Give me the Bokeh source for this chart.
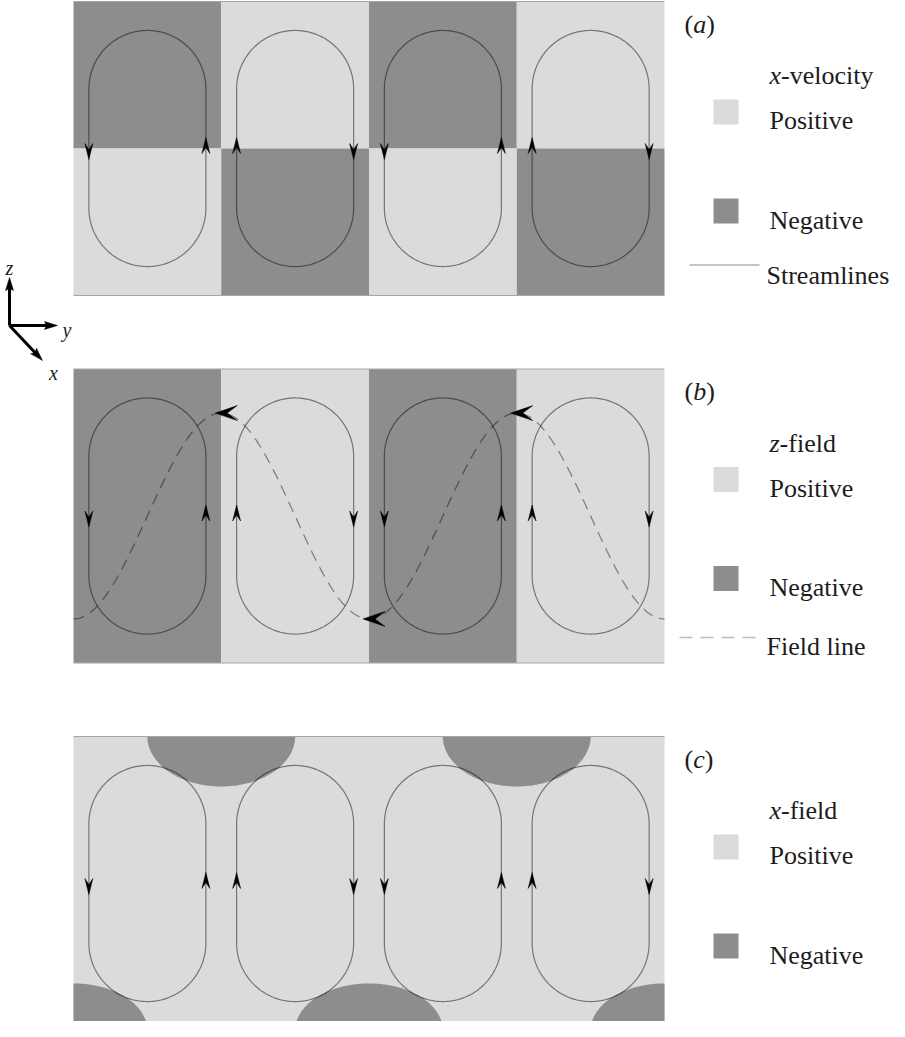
import numpy as np
from bokeh.plotting import figure
from bokeh.models import Range1d
from bokeh.core.properties import value
from bokeh.embed import file_html
from bokeh.resources import INLINE

# ---------------- data ----------------
cells = [0, 1, 2, 3]                      # convection rolls along y
xvel_upper = [-1, 1, -1, 1]               # (a) sign of x-velocity, upper half
xvel_lower = [1, -1, 1, -1]               # (a) sign of x-velocity, lower half
zfield_sign = [-1, 1, -1, 1]              # (b) sign of z-field in each roll
circulation = [1, -1, 1, -1]              # +1: down on left side, up on right side
lobe_centre = [1.0, 3.0, 0.0, 2.0, 4.0]   # (c) negative x-field lobes (position along y)
lobe_wall = ["top", "top", "bottom", "bottom", "bottom"]
lobe_halfwidth = [0.50, 0.50, 0.50, 0.50, 0.50]
lobe_halfheight = [0.34, 0.34, 0.32, 0.32, 0.32]
field_amplitude = 0.70                    # (b) field-line excursion
field_arrow_at = [1.0, 2.0, 3.0]          # (b) arrows on the field line
stream_halfwidth = 0.396
stream_halfheight = 0.803
panel_tags = ["a", "b", "c"]
panel_vars = ["x", "z", "x"]
panel_quantities = ["-velocity", "-field", "-field"]
legend_labels = ["Positive", "Negative"]
line_labels = ["Streamlines", "Field line", None]
axis_names = ["z", "y", "x"]

LIGHT = "#dbdbdb"
DARK = "#8d8d8d"
INK = "#1c1c1c"
FONT = "Liberation Serif"

W, H = 889, 1021
SX, SY = 147.75, 147.0
BOX_LEFT_PX = 73
BOX_W, BOX_H = float(len(cells)), 2.0
OFFSETS = [0.0, -2.5, -5.0]
y_top = BOX_H + 1.0 / SY

p = figure(width=W, height=H,
           x_range=Range1d(-BOX_LEFT_PX / SX, (W - BOX_LEFT_PX) / SX),
           y_range=Range1d(y_top - H / SY, y_top),
           output_backend="svg", toolbar_location=None, min_border=0,
           x_axis_location=None, y_axis_location=None)
p.grid.visible = False
p.outline_line_color = None
p.background_fill_color = "white"
p.border_fill_color = "white"


def px(page_x):
    return (page_x - 8 - BOX_LEFT_PX) / SX


def py(off, rel):
    return off + BOX_H - rel / SY


def vee(tx, ty, ux, uy, L, Wd, N):
    nx, ny = -uy, ux
    pts = [(0, 0),
           (-L * ux + Wd / 2 * nx, -L * uy + Wd / 2 * ny),
           (-N * ux, -N * uy),
           (-L * ux - Wd / 2 * nx, -L * uy - Wd / 2 * ny)]
    return [tx + a / SX for a, b in pts], [ty + b / SY for a, b in pts]


def col(s):
    return LIGHT if s > 0 else DARK


# stadium-like streamline outline (in pixels, then to world units)
r_px = stream_halfwidth * SX
h_px = stream_halfheight * SY
arc = np.linspace(0, np.pi, 120)
top_x = r_px * np.cos(arc)
top_z = (h_px - r_px) + r_px * np.sin(arc)
shape_x = np.concatenate([top_x, -top_x, [top_x[0]]])
shape_z = np.concatenate([top_z, -top_z, [top_z[0]]])
ex = shape_x / SX
ez = shape_z / SY

for k, off in enumerate(OFFSETS):
    # ---- fills ----
    if k == 0:
        p.quad(left=cells, right=[c + 1 for c in cells], bottom=[off + 1] * 4, top=[off + 2] * 4,
               fill_color=[col(s) for s in xvel_upper], line_color=None)
        p.quad(left=cells, right=[c + 1 for c in cells], bottom=[off] * 4, top=[off + 1] * 4,
               fill_color=[col(s) for s in xvel_lower], line_color=None)
    elif k == 1:
        p.quad(left=cells, right=[c + 1 for c in cells], bottom=[off] * 4, top=[off + 2] * 4,
               fill_color=[col(s) for s in zfield_sign], line_color=None)
    else:
        p.quad(left=[0], right=[BOX_W], bottom=[off], top=[off + BOX_H], fill_color=LIGHT, line_color=None)
        th = np.linspace(0, 2 * np.pi, 241)
        lx, ly = [], []
        for c, wall, a, b in zip(lobe_centre, lobe_wall, lobe_halfwidth, lobe_halfheight):
            cy = off + BOX_H if wall == "top" else off
            xs = np.clip(c + a * np.cos(th), 0, BOX_W)
            ys = np.clip(cy + b * np.sin(th), off, off + BOX_H)
            lx.append(list(xs))
            ly.append(list(ys))
        p.patches(xs=lx, ys=ly, fill_color=DARK, line_color=None)

    p.segment(x0=[0, 0], y0=[off + BOX_H, off], x1=[BOX_W, BOX_W], y1=[off + BOX_H, off],
              line_color="#a6a6a6", line_width=1)

    # ---- field line (b) ----
    if k == 1:
        fx = np.linspace(0, BOX_W, 600)
        fz = off + 1 - field_amplitude * np.cos(np.pi * fx)
        p.line(fx, fz, line_color="black", line_alpha=0.42, line_width=1.3, line_dash="11 7")
        axs, ays = [], []
        for xa in field_arrow_at:
            za = off + 1 - field_amplitude * np.cos(np.pi * xa)
            a_x, a_y = vee(xa - 6 / SX, za, -1, 0, 22, 15, 12)
            axs.append(a_x)
            ays.append(a_y)
        p.patches(xs=axs, ys=ays, fill_color="black", line_color="black", line_width=0.5)

    # ---- streamlines ----
    sxs = [list(c + 0.5 + ex) for c in cells]
    sys_ = [list(off + 1 + ez) for c in cells]
    p.multi_line(xs=sxs, ys=sys_, line_color="black", line_alpha=0.47, line_width=1.2)

    axs, ays = [], []
    for c, d in zip(cells, circulation):
        for side, sgn in ((-1, -d), (1, d)):
            xa = c + 0.5 + side * stream_halfwidth
            za = off + 1 + sgn * 11 / SY
            a_x, a_y = vee(xa, za, 0, sgn, 16, 8, 10)
            axs.append(a_x)
            ays.append(a_y)
    p.patches(xs=axs, ys=ays, fill_color="black", line_color="black", line_width=0.5)

    # ---- legend ----
    adv = {"(": 0.333, "a": 0.5, "b": 0.5, "c": 0.444, "x": 0.444, "z": 0.389}
    fs = 26
    tag = panel_tags[k]
    x0 = 692
    p.text(x=[px(x0), px(x0 + adv[tag] * fs + adv["("] * fs)], y=[py(off, 22.5)] * 2, text=["(", ")"],
           text_font=value(FONT), text_font_size=value(f"{fs}px"), text_color=INK,
           text_baseline="alphabetic", text_align="left")
    p.text(x=[px(x0 + adv["("] * fs)], y=[py(off, 22.5)], text=[tag],
           text_font=value(FONT), text_font_size=value(f"{fs}px"), text_color=INK,
           text_font_style="italic", text_baseline="alphabetic", text_align="left")

    hx = 777
    var = panel_vars[k]
    p.text(x=[px(hx)], y=[py(off, 74)], text=[var], text_font=value(FONT),
           text_font_size=value(f"{fs}px"), text_color=INK, text_font_style="italic",
           text_baseline="alphabetic", text_align="left")
    p.text(x=[px(hx + adv[var] * fs)], y=[py(off, 74)], text=[panel_quantities[k]], text_font=value(FONT),
           text_font_size=value(f"{fs}px"), text_color=INK,
           text_baseline="alphabetic", text_align="left")

    p.rect(x=[px(733.5)] * 2, y=[py(off, 110.5), py(off, 209.5)], width=25 / SX, height=25 / SY,
           fill_color=[LIGHT, DARK], line_color=None)
    p.text(x=[px(hx)] * 2, y=[py(off, 119), py(off, 218.5)], text=legend_labels,
           text_font=value(FONT), text_font_size=value(f"{fs}px"), text_color=INK,
           text_baseline="alphabetic", text_align="left")

    if line_labels[k] is not None:
        base = 273.5 if k == 0 else 277.5
        if k == 0:
            p.line([px(697), px(767)], [py(off, base - 10)] * 2, line_color="#b3b3b3", line_width=1.3)
        else:
            p.line([px(687), px(767)], [py(off, base - 9)] * 2, line_color="#bdbdbd", line_width=1.5,
                   line_dash="13 8")
        p.text(x=[px(hx - 3)], y=[py(off, base)], text=[line_labels[k]],
               text_font=value(FONT), text_font_size=value(f"{fs}px"), text_color=INK,
               text_baseline="alphabetic", text_align="left")

# ---- coordinate triad ----
ox, oy = px(17), py(0, 333 - 9)
tips = [(px(17), py(0, 285 - 9)), (px(65), py(0, 333 - 9)), (px(50), py(0, 368 - 9))]
txs, tys, sx0, sy0, sx1, sy1 = [], [], [], [], [], []
for (tx, ty) in tips:
    dxp, dyp = (tx - ox) * SX, (ty - oy) * SY
    n = np.hypot(dxp, dyp)
    ux, uy = dxp / n, dyp / n
    a_x, a_y = vee(tx, ty, ux, uy, 13, 8, 11)
    txs.append(a_x)
    tys.append(a_y)
    sx0.append(ox)
    sy0.append(oy)
    sx1.append(tx - 9 * ux / SX)
    sy1.append(ty - 9 * uy / SY)
p.segment(x0=sx0, y0=sy0, x1=sx1, y1=sy1, line_color="black", line_width=3)
p.patches(xs=txs, ys=tys, fill_color="black", line_color="black", line_width=0.5)
p.text(x=[px(17), px(61)], y=[py(0, 275 - 9), py(0, 380 - 9)], text=[axis_names[0], axis_names[2]],
       text_font=value(FONT), text_font_size=value("20px"), text_color=INK, text_font_style="italic",
       text_baseline="alphabetic", text_align="center")
p.text(x=[px(70)], y=[py(0, 337 - 9)], text=[axis_names[1]],
       text_font=value(FONT), text_font_size=value("20px"), text_color=INK, text_font_style="italic",
       text_baseline="alphabetic", text_align="left")

open("out.html", "w").write(file_html(p, INLINE))
